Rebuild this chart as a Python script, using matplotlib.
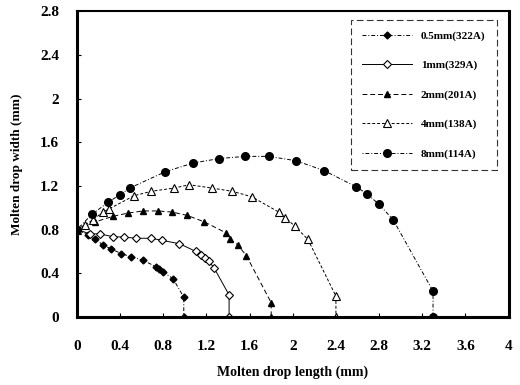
import matplotlib
matplotlib.use('Agg')
import matplotlib.pyplot as plt
import numpy as np

plt.rcParams['font.family'] = 'Liberation Serif'
plt.rcParams['font.weight'] = 'bold'

# 0.5mm (322A) - filled diamonds
x_05 = [0, 0.10, 0.17, 0.24, 0.32, 0.41, 0.50, 0.61, 0.73, 0.76, 0.80, 0.89, 0.99, 0.99]
y_05 = [0.80, 0.75, 0.71, 0.66, 0.62, 0.58, 0.55, 0.52, 0.46, 0.44, 0.41, 0.35, 0.18, 0.0]

# 1mm (329A) - open diamonds
x_1 = [0, 0.12, 0.21, 0.33, 0.44, 0.55, 0.69, 0.79, 0.95, 1.10, 1.15, 1.19, 1.22, 1.27, 1.41, 1.41]
y_1 = [0.80, 0.76, 0.76, 0.735, 0.73, 0.72, 0.72, 0.70, 0.67, 0.60, 0.57, 0.54, 0.51, 0.45, 0.20, 0.0]

# 2mm (201A) - filled triangles
x_2 = [0, 0.17, 0.33, 0.47, 0.61, 0.75, 0.88, 1.02, 1.18, 1.38, 1.42, 1.49, 1.57, 1.80, 1.80]
y_2 = [0.80, 0.87, 0.92, 0.95, 0.97, 0.97, 0.96, 0.93, 0.87, 0.77, 0.71, 0.66, 0.56, 0.13, 0.0]

# 4mm (138A) - open triangles
x_4 = [0, 0.07, 0.15, 0.24, 0.30, 0.53, 0.69, 0.90, 1.04, 1.25, 1.44, 1.62, 1.87, 1.93, 2.02, 2.14, 2.40, 2.40]
y_4 = [0.80, 0.84, 0.89, 0.96, 0.99, 1.11, 1.15, 1.18, 1.21, 1.18, 1.15, 1.10, 0.96, 0.91, 0.83, 0.71, 0.19, 0.0]

# 8mm (114A) - filled circles
x_8 = [0, 0.14, 0.29, 0.40, 0.49, 0.82, 1.08, 1.32, 1.56, 1.78, 2.03, 2.29, 2.59, 2.69, 2.80, 2.93, 3.30, 3.30]
y_8 = [0.80, 0.94, 1.05, 1.12, 1.18, 1.33, 1.41, 1.45, 1.47, 1.47, 1.43, 1.34, 1.19, 1.125, 1.03, 0.89, 0.235, 0.0]

labels = ['0.5mm(322A)', '1mm(329A)', '2mm(201A)', '4mm(138A)', '8mm(114A)']

fig = plt.figure(figsize=(5.2, 3.85), dpi=100)
ax = fig.add_axes([0.148, 0.177, 0.83, 0.794])

ax.plot(x_05, y_05, color='black', lw=0.7, ls=(0, (4, 2, 1, 2)), marker='D', ms=3.5,
        mfc='black', mec='black', label=labels[0])
ax.plot(x_1, y_1, color='black', lw=0.7, ls='-', marker='D', ms=4,
        mfc='white', mec='black', mew=0.8, label=labels[1])
ax.plot(x_2, y_2, color='black', lw=0.7, ls=(0, (5, 3)), marker='^', ms=5,
        mfc='black', mec='black', label=labels[2])
ax.plot(x_4, y_4, color='black', lw=0.7, ls=(0, (3, 2)), marker='^', ms=6,
        mfc='white', mec='black', mew=0.8, label=labels[3])
ax.plot(x_8, y_8, color='black', lw=0.7, ls=(0, (1, 2, 4, 2)), marker='o', ms=5.5,
        mfc='black', mec='black', label=labels[4])

ax.set_xlim(0, 4)
ax.set_ylim(0, 2.8)
ax.set_xticks(np.arange(0, 4.01, 0.4))
ax.set_xticklabels(['0', '0.4', '0.8', '1.2', '1.6', '2', '2.4', '2.8', '3.2', '3.6', '4'])
ax.set_yticks(np.arange(0, 2.81, 0.4))
ax.set_yticklabels(['0', '0.4', '0.8', '1.2', '1.6', '2', '2.4', '2.8'])
ax.tick_params(direction='in', length=3, width=0.8, labelsize=11)
ax.tick_params(axis='x', pad=17)
ax.tick_params(axis='y', pad=13)
for lbl in ax.get_xticklabels() + ax.get_yticklabels():
    lbl.set_fontweight('bold')

for side in ['left', 'bottom', 'right']:
    ax.spines[side].set_linewidth(2.2)
ax.spines['top'].set_linewidth(1.5)

ax.set_xlabel('Molten drop length (mm)', fontsize=10, fontweight='bold', labelpad=9)
ax.set_ylabel('Molten drop width (mm)', fontsize=9.5, fontweight='bold', labelpad=12)

leg = ax.legend(loc='upper right', bbox_to_anchor=(0.985, 0.99), fontsize=8, frameon=True,
                fancybox=False, edgecolor='black', handlelength=4.5, labelspacing=1.75,
                borderpad=1.0, numpoints=1)
leg.get_frame().set_linestyle((0, (6, 3)))
leg.get_frame().set_linewidth(0.8)
for t in leg.get_texts():
    t.set_fontweight('bold')

fig.savefig('out.png', dpi=100)
